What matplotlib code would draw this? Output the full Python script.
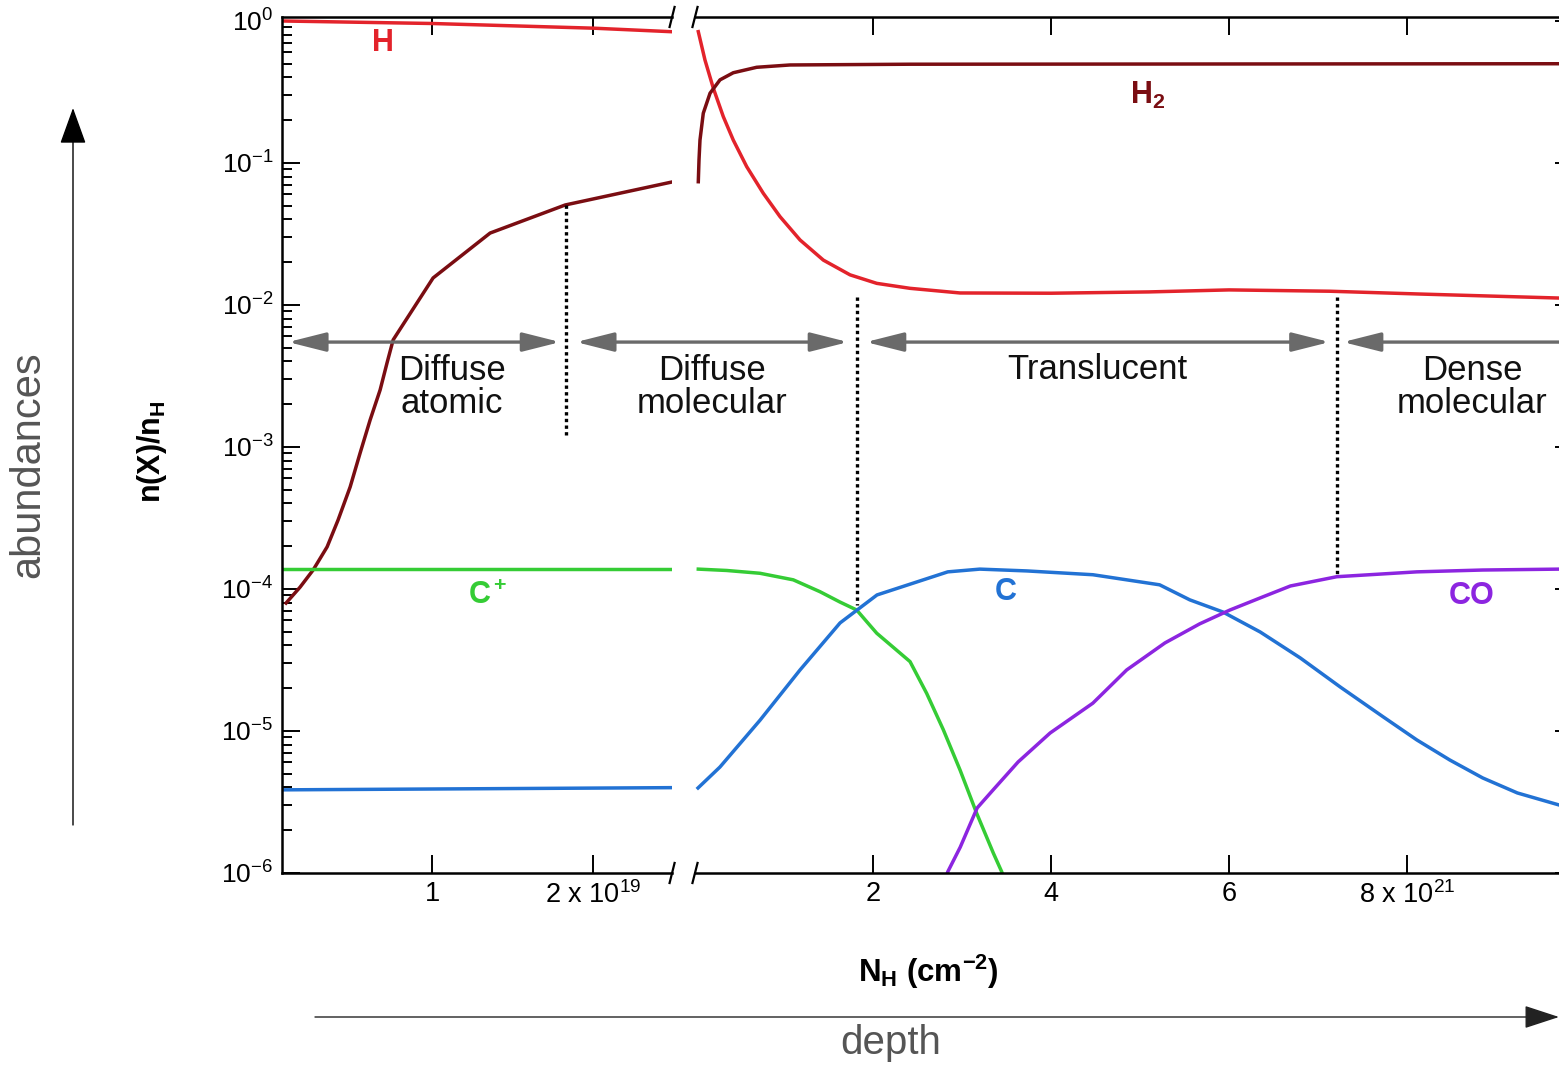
import matplotlib
matplotlib.use('Agg')
import matplotlib.pyplot as plt
from matplotlib.ticker import LogLocator, NullFormatter

plt.rcParams['font.family'] = ['Liberation Sans', 'DejaVu Sans']
plt.rcParams['mathtext.fontset'] = 'custom'
plt.rcParams['mathtext.rm'] = 'Liberation Sans'
plt.rcParams['mathtext.it'] = 'Liberation Sans:italic'
plt.rcParams['mathtext.bf'] = 'Liberation Sans:bold'

# left panel: N_H in units of 1e19 cm^-2
xl_H = [0.07, 1.0, 2.0, 2.49]
H_left = [1.0, 0.96, 0.89, 0.84]
xl_H2 = [0.093, 0.180, 0.261, 0.348, 0.416, 0.491, 0.553, 0.615, 0.677, 0.720,
         0.758, 1.006, 1.36, 1.826, 2.49]
H2_left = [7.96e-5, 1.03e-4, 1.36e-4, 1.98e-4, 3.06e-4, 5.23e-4, 9.08e-4, 1.55e-3,
           2.52e-3, 3.91e-3, 5.68e-3, 1.55e-2, 3.21e-2, 5.06e-2, 7.35e-2]
xl_Cp = [0.07, 2.49]
Cp_left = [1.38e-4, 1.38e-4]
xl_C = [0.07, 2.49]
C_left = [3.85e-6, 3.99e-6]

# right panel: N_H in units of 1e21 cm^-2
xr_H = [0.037, 0.112, 0.206, 0.318, 0.430, 0.581, 0.767, 0.955, 1.180, 1.442, 1.742,
        2.042, 2.416, 2.978, 4.0, 5.1, 6.0, 7.13, 8.15, 9.71, 9.87]
H_right = [0.841, 0.531, 0.336, 0.212, 0.145, 0.0942, 0.0612, 0.0419, 0.0287, 0.0207,
           0.0163, 0.0142, 0.0131, 0.01215, 0.0121, 0.01236, 0.01277, 0.0125,
           0.01194, 0.01119, 0.0111]
xr_H2 = [0.037, 0.045, 0.056, 0.093, 0.169, 0.281, 0.430, 0.693, 1.067, 2.416, 9.87]
H2_right = [0.0738, 0.105, 0.145, 0.224, 0.310, 0.385, 0.432, 0.472, 0.490, 0.496, 0.50]
xr_Cp = [0.037, 0.356, 0.730, 1.104, 1.404, 1.629, 1.817, 1.929, 2.042, 2.416, 2.603,
         2.790, 2.978, 3.165, 3.352, 3.446, 3.50]
Cp_right = [1.38e-4, 1.35e-4, 1.29e-4, 1.16e-4, 9.57e-5, 8.09e-5, 7.11e-5, 5.89e-5,
            4.88e-5, 3.08e-5, 1.84e-5, 1.02e-5, 5.31e-6, 2.63e-6, 1.38e-6, 1.02e-6, 8.0e-7]
xr_C = [0.034, 0.28, 0.73, 1.18, 1.63, 2.045, 2.84, 3.20, 3.73, 4.47, 5.22, 5.56, 5.93,
        6.35, 6.80, 7.25, 7.73, 8.11, 8.48, 8.85, 9.24, 9.71, 9.87]
C_right = [3.97e-6, 5.57e-6, 1.19e-5, 2.69e-5, 5.77e-5, 9.08e-5, 1.32e-4, 1.38e-4,
           1.34e-4, 1.26e-4, 1.07e-4, 8.38e-5, 6.89e-5, 4.98e-5, 3.27e-5, 2.04e-5,
           1.26e-5, 8.65e-6, 6.25e-6, 4.67e-6, 3.66e-6, 3.01e-6, 2.85e-6]
xr_CO = [2.81, 2.84, 2.98, 3.17, 3.35, 3.63, 3.99, 4.47, 4.85, 5.28, 5.67, 6.01, 6.35,
         6.69, 7.21, 8.11, 8.85, 9.71, 9.87]
CO_right = [8.9e-7, 1.02e-6, 1.52e-6, 2.87e-6, 3.85e-6, 6.05e-6, 9.68e-6, 1.57e-5,
            2.69e-5, 4.17e-5, 5.68e-5, 7.11e-5, 8.65e-5, 1.05e-4, 1.22e-4, 1.32e-4,
            1.36e-4, 1.38e-4, 1.38e-4]

y_major = [1e-6, 1e-5, 1e-4, 1e-3, 1e-2, 1e-1, 1e0]
y_labels = [r'$\mathregular{10^{%d}}$' % k for k in range(-6, 1)]
xl_ticks = [1, 2]
xl_labels = ['1', r'2 x $\mathregular{10^{19}}$']
xr_ticks = [2, 4, 6, 8]
xr_labels = ['2', '4', '6', r'8 x $\mathregular{10^{21}}$']

# cloud regimes
region_names = ['Diffuse\natomic', 'Diffuse\nmolecular', 'Translucent', 'Dense\nmolecular']
boundary_left = 1.832                # 1e19, diffuse atomic / diffuse molecular
boundaries_right = [1.82, 7.21]      # 1e21
arrow_y = 5.48e-3

RED = '#e3232b'
DARKRED = '#7a0d12'
GREEN = '#35cc35'
BLUE = '#2272d4'
PURPLE = '#8c25e0'
GRAY = '#6a6a6a'
LW = 2.5

fig = plt.figure(figsize=(15.59, 10.68), dpi=100)
axL = fig.add_axes([0.1807, 0.1826, 0.2504, 0.8015])
axR = fig.add_axes([0.4458, 0.1826, 0.5632, 0.8015])

for ax in (axL, axR):
    ax.patch.set_visible(False)
    ax.set_yscale('log')
    ax.set_ylim(1e-6, 1.067)
    ax.set_yticks(y_major)
    ax.yaxis.set_minor_locator(LogLocator(base=10, subs=range(2, 10), numticks=20))
    ax.yaxis.set_minor_formatter(NullFormatter())
    ax.tick_params(which='both', direction='in', width=1.4, colors='black')
    ax.tick_params(which='major', length=13)
    ax.tick_params(which='minor', length=7.5)
    ax.tick_params(axis='x', which='both', top=True, bottom=True, labelsize=19.5, pad=6)
    ax.tick_params(axis='x', which='minor', top=False, bottom=False)
    for s in ax.spines.values():
        s.set_linewidth(1.8)

axL.set_xlim(0.066, 2.49)
axL.set_yticklabels(y_labels)
axL.tick_params(axis='y', which='both', left=True, right=False, labelsize=19, pad=6)
axL.spines['right'].set_visible(False)
axL.set_xticks(xl_ticks)
axL.set_xticklabels(xl_labels)

axR.set_xlim(0.0, 9.865)
axR.tick_params(axis='y', which='both', left=False, right=True, labelleft=False, labelright=False)
axR.spines['left'].set_visible(False)
axR.set_xticks(xr_ticks)
axR.set_xticklabels(xr_labels)

# curves
axL.plot(xl_H, H_left, color=RED, lw=LW)
axL.plot(xl_H2, H2_left, color=DARKRED, lw=LW)
axL.plot(xl_Cp, Cp_left, color=GREEN, lw=LW)
axL.plot(xl_C, C_left, color=BLUE, lw=LW)
axR.plot(xr_H, H_right, color=RED, lw=LW)
axR.plot(xr_H2, H2_right, color=DARKRED, lw=LW)
axR.plot(xr_Cp, Cp_right, color=GREEN, lw=LW)
axR.plot(xr_C, C_right, color=BLUE, lw=LW)
axR.plot(xr_CO, CO_right, color=PURPLE, lw=LW)

# species labels
lab = dict(fontsize=22, fontweight='bold', ha='center', va='center')
axL.text(0.696, 0.70, 'H', color=RED, **lab)
axR.text(5.09, 0.30, r'$\mathbf{H_2}$', color=DARKRED, **lab)
axL.text(1.348, 8.93e-5, r'$\mathbf{C^+}$', color=GREEN, **lab)
axR.text(3.494, 9.53e-5, 'C', color=BLUE, **lab)
axR.text(8.73, 8.93e-5, 'CO', color=PURPLE, **lab)

# regime boundaries
dots = dict(color='black', lw=2.4, linestyle=(0, (1, 1)), dash_capstyle='butt')
axL.plot([boundary_left, boundary_left], [0.0506, 1.156e-3], **dots)
axR.plot([boundaries_right[0]] * 2, [1.138e-2, 7.7e-5], **dots)
axR.plot([boundaries_right[1]] * 2, [1.138e-2, 1.256e-4], **dots)

both = dict(arrowstyle='<|-|>,head_length=2.3,head_width=0.58', color=GRAY, lw=2.4,
            shrinkA=0, shrinkB=0, mutation_scale=10)
axL.annotate('', xy=(1.795, arrow_y), xytext=(0.106, arrow_y), arrowprops=both,
             annotation_clip=False)
axR.annotate('', xy=(1.72, arrow_y), xycoords=axR.transData,
             xytext=(1.894, arrow_y), textcoords=axL.transData, arrowprops=both,
             annotation_clip=False)
axR.annotate('', xy=(7.13, arrow_y), xytext=(1.92, arrow_y), arrowprops=both,
             annotation_clip=False)
one = dict(both, arrowstyle='-|>,head_length=2.3,head_width=0.58')
axR.annotate('', xy=(7.28, arrow_y), xytext=(9.865, arrow_y), arrowprops=one,
             annotation_clip=False)

reg = dict(fontsize=25, ha='center', va='center', linespacing=0.98, color='#111111')
axL.text(1.124, 2.65e-3, region_names[0], **reg)
axR.text(0.19, 2.65e-3, region_names[1], **reg)
axR.text(4.517, 3.54e-3, region_names[2], **reg)
axR.text(8.73, 2.65e-3, region_names[3], **reg)

# axis break marks
for ax, xpos, dx in [(axL, 1.0, 0.0064), (axR, 0.0, 0.0029)]:
    for ypos in (0.0, 1.0):
        ax.plot([xpos - dx, xpos + dx], [ypos - 0.0117, ypos + 0.0117],
                transform=ax.transAxes, color='black', lw=1.6, clip_on=False)

# axis titles
fig.text(152 / 1559, 1 - 452 / 1068, r'$\mathbf{n(X)/n_H}$', rotation=90,
         fontsize=22, ha='center', va='center')
fig.text(928 / 1559, 1 - 972 / 1068, r'$\mathbf{N_H\ (cm^{-2})}$',
         fontsize=22.5, ha='center', va='center')

# schematic depth / abundance arrows
axL.annotate('', xy=(73 / 1559, 1 - 108 / 1068), xycoords='figure fraction',
             xytext=(73 / 1559, 1 - 825 / 1068), textcoords='figure fraction',
             arrowprops=dict(arrowstyle='-|>,head_length=2.3,head_width=0.83',
                             color='black', lw=1.0, shrinkA=0, shrinkB=0,
                             mutation_scale=10), annotation_clip=False)
axL.annotate('', xy=(1559 / 1559, 1 - 1017 / 1068), xycoords='figure fraction',
             xytext=(315 / 1559, 1 - 1017 / 1068), textcoords='figure fraction',
             arrowprops=dict(arrowstyle='-|>,head_length=2.2,head_width=0.72',
                             color='#222222', lw=1.0, shrinkA=0, shrinkB=0,
                             mutation_scale=10), annotation_clip=False)
fig.text(28 / 1559, 1 - 465 / 1068, 'abundances', rotation=90, fontsize=30,
         color='#555555', ha='center', va='center')
fig.text(891 / 1559, 1 - 1043 / 1068, 'depth', fontsize=29,
         color='#555555', ha='center', va='center')

fig.savefig('out.png', dpi=100)
